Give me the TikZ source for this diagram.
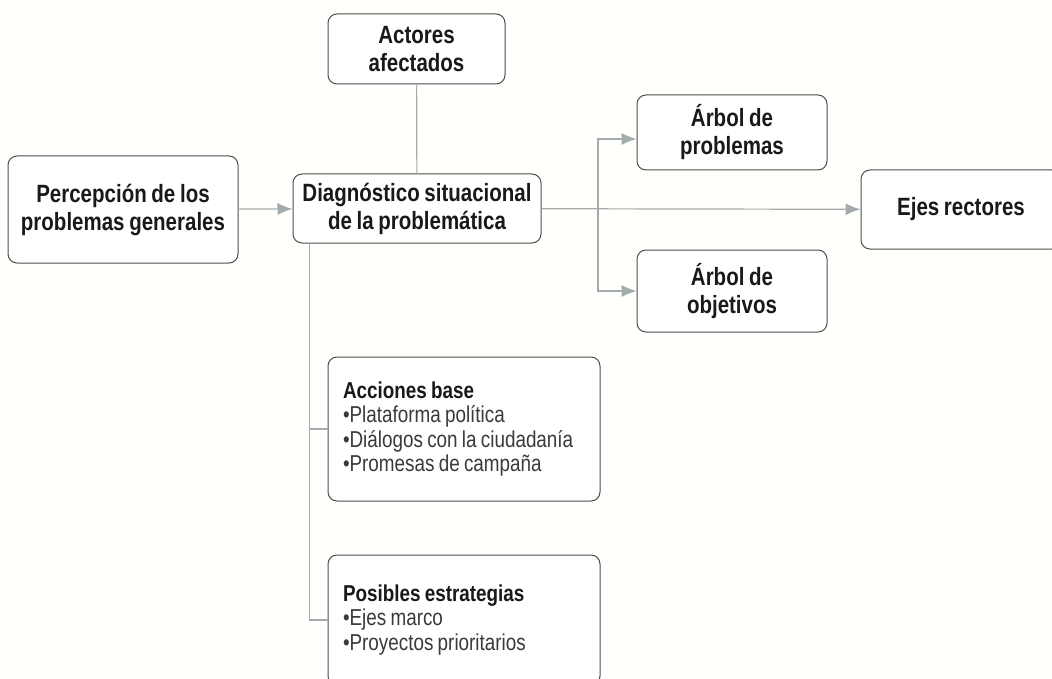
\documentclass[tikz,border=0pt]{standalone}
\usepackage{fontspec}
\setmainfont[FakeStretch=0.82,WordSpace=0.82]{Liberation Sans}
\usetikzlibrary{arrows.meta,positioning}

\definecolor{linegray}{HTML}{A3ABAF}
\definecolor{boxgray}{HTML}{4D4D4D}
\definecolor{itemgray}{HTML}{3A3A3A}

\begin{document}
\begin{tikzpicture}[x=1pt,y=-1pt]
\tikzstyle{main}=[rectangle, rounded corners=9pt, draw=boxgray, line width=1pt, fill=white, align=center, font=\fontsize{25}{28}\selectfont\bfseries, text=black!90]
\tikzstyle{listbox}=[rectangle, rounded corners=9pt, draw=boxgray, line width=1pt, fill=white, align=flush left, inner xsep=15pt, text width=242pt, font=\fontsize{23}{24.5}\selectfont, text=itemgray]
\tikzstyle{connect}=[-{Latex[length=15pt,width=12pt,fill=linegray]}, draw=linegray, line width=1.2pt]
\tikzstyle{link}=[draw=linegray, line width=1.2pt]
  \fill[white!99!yellow] (0,0) rectangle (1052,679);
  \useasboundingbox (0,0) rectangle (1052,679);
  \node[main, minimum width=230pt, minimum height=107pt] (perc) at (123,209.5) {Percepción de los\\problemas generales};
  \node[main, minimum width=248pt, minimum height=69pt] (diag) at (417,208.5) {Diagnóstico situacional\\de la problemática};
  \node[main, minimum width=177pt, minimum height=70pt] (actores) at (416.5,49) {Actores\\afectados};
  \node[main, minimum width=190pt, minimum height=75pt] (arbp) at (732,132.5) {Árbol de\\problemas};
  \node[main, minimum width=190pt, minimum height=82pt] (arbo) at (732,291) {Árbol de\\objetivos};
  \node[main, minimum width=200pt, minimum height=79pt] (ejes) at (961,209.5) {Ejes rectores};
  \node[listbox, minimum height=144pt] (acc) at (464,429) {\textbf{\color{black!90}Acciones base}\\•Plataforma política\\•Diálogos con la ciudadanía\\•Promesas de campaña};
  \node[listbox, minimum height=130pt] (pos) at (464,620) {\textbf{\color{black!90}Posibles estrategias}\\•Ejes marco\\•Proyectos prioritarios};
  \coordinate (split) at (598,209);
  \coordinate (down) at ([xshift=17pt]diag.south west);
  \path (perc) edge [connect] (diag)
        (actores) edge [link] (diag)
        (diag) edge [connect] (ejes);
  \draw[connect] (split) |- ([yshift=-6.5pt]arbp.west);
  \draw[connect] (split) |- (arbo.west);
  \draw[link] (down) |- (acc.west);
  \draw[link] (down) |- (pos.west);
\end{tikzpicture}
\end{document}
